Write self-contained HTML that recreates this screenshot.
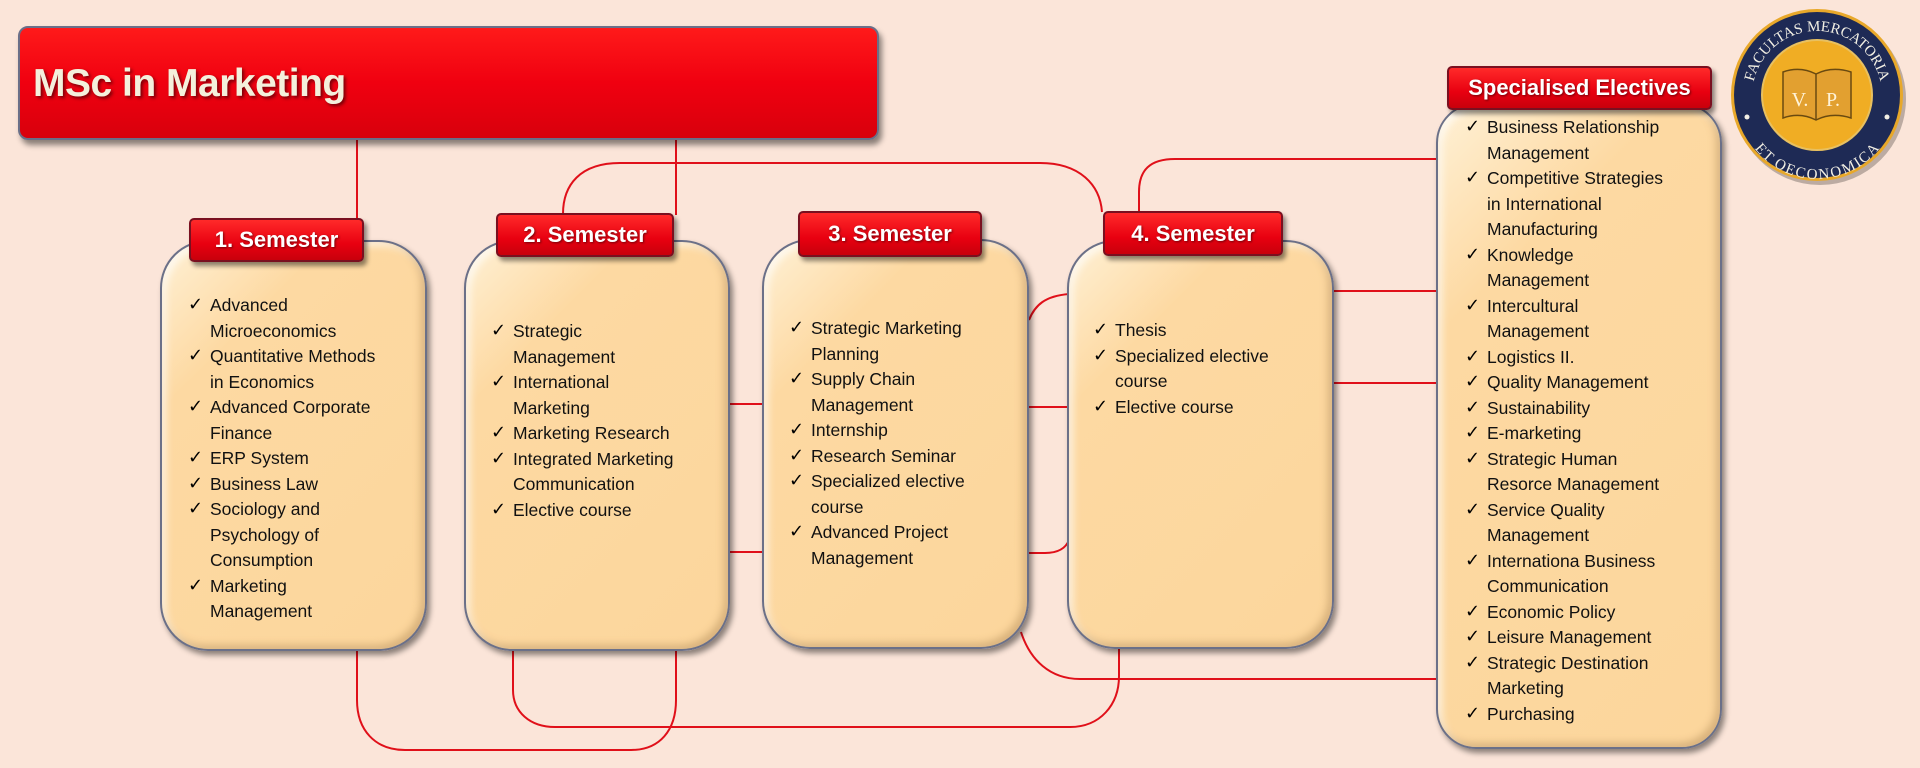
<!DOCTYPE html>
<html><head><meta charset="utf-8"><style>
body{margin:0;width:1920px;height:768px;background:#fbe5d9;position:relative;overflow:hidden;font-family:"Liberation Sans",sans-serif}
.box{position:absolute;background:linear-gradient(135deg,#fff1d6 0%,#fdd9a2 25%,#fcd69c 100%);border:2px solid #6b7088;border-radius:48px;box-shadow:3px 4px 6px rgba(0,0,0,.45),inset -4px -4px 8px rgba(150,110,60,.35),inset 4px 4px 8px rgba(255,255,255,.7);box-sizing:border-box}
.hdr{position:absolute;background:linear-gradient(#ff2a2a,#e80010 60%,#c8000c);border:2px solid #7a1020;border-radius:5px;box-shadow:3px 4px 5px rgba(0,0,0,.45);color:#fff;font-weight:bold;font-size:22px;text-align:center;box-sizing:border-box;text-shadow:1px 1px 2px rgba(0,0,0,.5)}
ul{position:absolute;margin:0;padding:0;list-style:none;font-size:17.5px;line-height:25.5px;color:#111}
li{padding-left:21px;position:relative}
li:before{content:"✓";position:absolute;left:-1px;top:-1px;font-family:"DejaVu Sans",sans-serif;font-size:18px;font-weight:bold;color:#000}
svg{position:absolute;left:0;top:0}
</style></head><body>
<svg width="1920" height="768" fill="none" stroke="#e0101a" stroke-width="2">
<path d="M357 140V220"/>
<path d="M676 140V215"/>
<path d="M563 214C563 185 580 163 620 163L1040 163C1080 163 1100 185 1102 212"/>
<path d="M1139 212V192C1139 170 1150 159 1175 159L1438 159"/>
<path d="M1334 291H1438M1334 383H1438"/>
<path d="M730 404H764M730 552H764"/>
<path d="M1029 407H1069"/>
<path d="M1029 320C1035 305 1045 296 1069 294"/>
<path d="M1029 553H1045C1058 553 1066 548 1069 540"/>
<path d="M357 650V700C357 730 375 750 405 750H631C660 750 676 730 676 700V650"/>
<path d="M513 650V690C513 712 530 727 555 727H1070C1100 727 1119 705 1119 676V648"/>
<path d="M1021 632C1030 660 1050 679 1080 679H1438"/>
</svg>
<div style="position:absolute;left:18px;top:26px;width:861px;height:114px;background:linear-gradient(#ff1a1a,#f00010 50%,#d8000c);border:2px solid #6a6f88;border-radius:10px;box-shadow:3px 5px 6px rgba(0,0,0,.45);box-sizing:border-box"></div>
<div style="position:absolute;left:33px;top:62px;font-size:39px;font-weight:bold;color:#f4f0dc;text-shadow:2px 2px 3px rgba(0,0,0,.5);letter-spacing:-0.5px">MSc in Marketing</div>

<div class="box" style="left:160px;top:240px;width:267px;height:411px"></div>
<div class="hdr" style="left:189px;top:218px;width:175px;height:44px;line-height:40px">1. Semester</div>
<ul style="left:189px;top:293px;width:230px">
<li>Advanced<br>Microeconomics</li><li>Quantitative Methods<br>in Economics</li><li>Advanced Corporate<br>Finance</li><li>ERP System</li><li>Business Law</li><li>Sociology and<br>Psychology of<br>Consumption</li><li>Marketing<br>Management</li></ul>

<div class="box" style="left:464px;top:240px;width:266px;height:411px"></div>
<div class="hdr" style="left:496px;top:213px;width:178px;height:44px;line-height:40px">2. Semester</div>
<ul style="left:492px;top:319px;width:235px">
<li>Strategic<br>Management</li><li>International<br>Marketing</li><li>Marketing Research</li><li>Integrated Marketing<br>Communication</li><li>Elective course</li></ul>

<div class="box" style="left:762px;top:239px;width:267px;height:410px"></div>
<div class="hdr" style="left:798px;top:211px;width:184px;height:46px;line-height:42px">3. Semester</div>
<ul style="left:790px;top:316px;width:235px">
<li>Strategic Marketing<br>Planning</li><li>Supply Chain<br>Management</li><li>Internship</li><li>Research Seminar</li><li>Specialized elective<br>course</li><li>Advanced Project<br>Management</li></ul>

<div class="box" style="left:1067px;top:240px;width:267px;height:409px"></div>
<div class="hdr" style="left:1103px;top:211px;width:180px;height:45px;line-height:41px">4. Semester</div>
<ul style="left:1094px;top:318px;width:235px">
<li>Thesis</li><li>Specialized elective<br>course</li><li>Elective course</li></ul>

<div class="box" style="left:1436px;top:103px;width:286px;height:646px;border-radius:40px"></div>
<div class="hdr" style="left:1447px;top:66px;width:265px;height:44px;line-height:40px">Specialised Electives</div>
<ul style="left:1466px;top:115px;width:250px">
<li>Business Relationship<br>Management</li><li>Competitive Strategies<br>in International<br>Manufacturing</li><li>Knowledge<br>Management</li><li>Intercultural<br>Management</li><li>Logistics II.</li><li>Quality Management</li><li>Sustainability</li><li>E-marketing</li><li>Strategic Human<br>Resorce Management</li><li>Service Quality<br>Management</li><li>Internationa Business<br>Communication</li><li>Economic Policy</li><li>Leisure Management</li><li>Strategic Destination<br>Marketing</li><li>Purchasing</li></ul>

<svg width="1920" height="768" style="left:0;top:0">
<defs><path id="arcT" d="M1752 96A65 65 0 0 1 1882 96"/><path id="arcB" d="M1750 100A67 67 0 0 0 1884 100"/></defs>
<circle cx="1820" cy="99" r="86" fill="rgba(0,0,0,.25)"/>
<circle cx="1817" cy="95" r="86" fill="#e8a82a"/>
<circle cx="1817" cy="95" r="83" fill="#1e2a55"/>
<circle cx="1817" cy="95" r="55" fill="#f0ad24" stroke="#e8c060" stroke-width="2"/>
<text font-family="Liberation Serif,serif" font-size="15" fill="#f2efe4"><textPath href="#arcT" startOffset="50%" text-anchor="middle">FACULTAS MERCATORIA</textPath></text>
<text font-family="Liberation Serif,serif" font-size="15" fill="#f2efe4" dy="12"><textPath href="#arcB" startOffset="50%" text-anchor="middle">ET OECONOMICA</textPath></text>
<circle cx="1747" cy="117" r="2.5" fill="#f2efe4"/><circle cx="1887" cy="117" r="2.5" fill="#f2efe4"/>
<path d="M1783 72Q1800 66 1816 74Q1832 66 1851 72V118Q1832 112 1816 120Q1800 112 1783 118Z" fill="#e2a030" stroke="#6a4a10" stroke-width="1.5"/>
<path d="M1816 74V120" stroke="#6a4a10" stroke-width="1.5"/>
<text x="1800" y="106" font-family="Liberation Serif,serif" font-size="20" fill="#fff3d8" text-anchor="middle">V.</text>
<text x="1833" y="106" font-family="Liberation Serif,serif" font-size="20" fill="#fff3d8" text-anchor="middle">P.</text>
</svg>
</body></html>
